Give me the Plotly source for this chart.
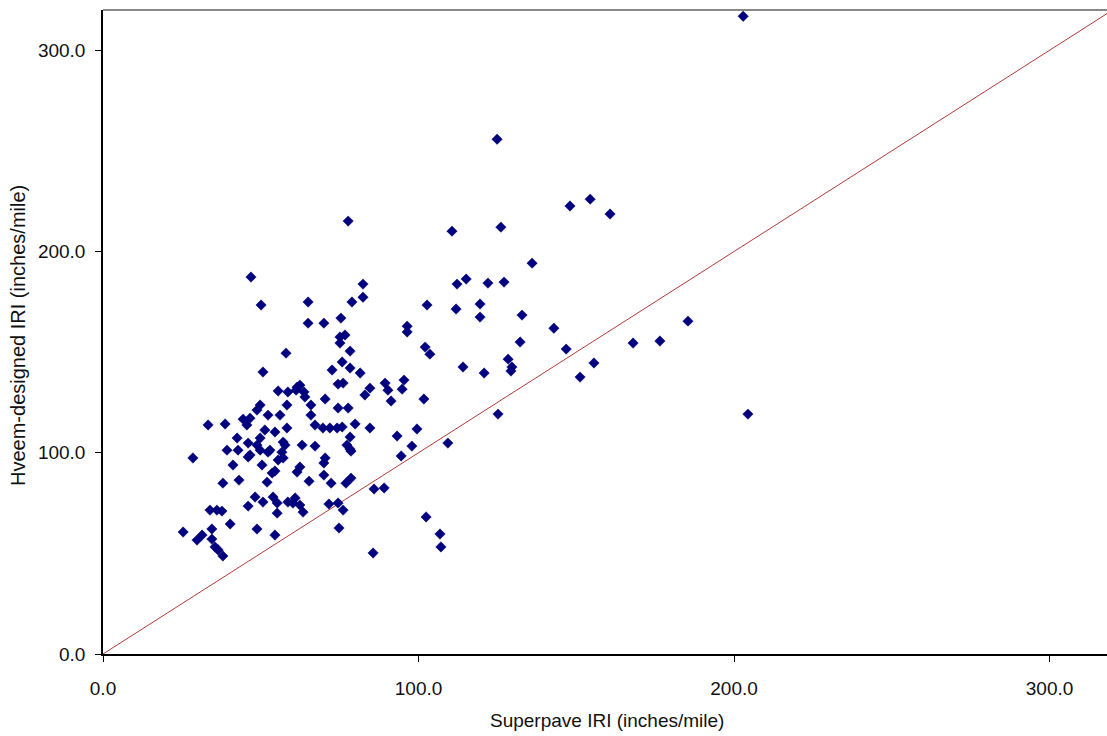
import plotly.graph_objects as go

superpave_iri = [
    202.9, 124.9, 148.0, 154.4, 160.7, 110.6, 126.1, 77.7, 136.0, 112.2,
    115.1, 122.0, 127.1, 46.9, 50.1, 65.0, 65.0, 70.0, 75.4, 78.9,
    82.4, 82.4, 102.7, 96.4, 96.4, 111.9, 119.5, 119.5, 132.8, 142.9,
    185.4, 168.0, 176.5, 102.1, 103.6, 114.1, 120.8, 128.4, 129.6, 129.3,
    132.2, 146.8, 155.6, 151.2, 125.2, 204.4, 89.4, 90.3, 95.4, 94.8,
    91.3, 101.7, 93.2, 99.5, 97.9, 109.3, 78.6, 94.5, 62.4, 61.5,
    70.0, 70.0, 65.3, 72.3, 77.0, 78.6, 60.9, 62.4, 63.4, 71.6,
    74.5, 76.1, 85.9, 89.1, 74.8, 102.4, 85.6, 106.8, 107.1, 75.1,
    76.7, 75.1, 78.3, 75.8, 72.6, 78.3, 81.5, 84.6, 83.0, 76.1,
    74.5, 62.4, 61.2, 63.7, 64.0, 70.4, 65.9, 65.9, 74.5, 77.7,
    67.2, 69.7, 71.9, 74.2, 75.8, 79.9, 84.6, 78.3, 77.3, 78.3,
    63.1, 67.2, 70.4, 58.0, 50.7, 55.5, 58.6, 61.5, 58.3, 49.8,
    48.8, 52.3, 56.1, 44.4, 46.6, 45.6, 33.3, 38.7, 58.3, 51.3,
    54.5, 42.5, 49.8, 46.0, 57.1, 39.3, 42.8, 48.8, 49.8, 46.6,
    52.9, 28.5, 57.7, 52.3, 56.7, 57.1, 41.2, 50.4, 53.6, 46.0,
    43.1, 38.0, 54.5, 52.0, 55.5, 48.2, 50.7, 46.0, 53.9, 55.2,
    55.2, 58.6, 60.2, 33.9, 36.1, 37.7, 40.3, 48.8, 54.5, 25.4,
    29.8, 31.4, 34.5, 34.5, 35.5, 36.5, 38.0,
]

hveem_iri = [
    316.9, 255.8, 222.6, 226.0, 218.6, 210.1, 212.1, 215.1, 194.2, 183.8,
    186.3, 184.3, 184.8, 187.3, 173.4, 174.9, 164.4, 164.4, 166.9, 174.9,
    183.8, 177.3, 173.4, 162.9, 160.0, 171.4, 173.9, 167.4, 168.4, 161.9,
    165.4, 154.5, 155.5, 152.5, 149.0, 142.6, 139.6, 146.5, 142.6, 140.6,
    155.0, 151.5, 144.6, 137.6, 119.2, 119.2, 134.6, 131.1, 136.1, 131.6,
    125.7, 126.7, 108.3, 111.8, 103.3, 104.8, 100.8, 98.4, 92.9, 90.4,
    94.9, 88.9, 85.9, 84.9, 84.9, 87.4, 77.5, 74.0, 70.5, 74.5,
    75.0, 71.5, 82.0, 82.5, 62.6, 68.1, 50.2, 59.6, 53.2, 157.5,
    158.5, 154.5, 150.5, 145.1, 141.1, 142.1, 139.6, 132.1, 128.7, 134.6,
    134.1, 133.6, 131.1, 130.2, 127.7, 126.7, 123.7, 118.7, 122.2, 122.2,
    113.8, 112.3, 112.3, 112.3, 112.8, 114.3, 112.3, 107.8, 103.8, 101.8,
    103.8, 103.3, 97.4, 149.5, 140.1, 130.7, 130.2, 132.6, 123.7, 123.7,
    121.2, 118.7, 118.7, 116.7, 117.2, 113.8, 113.8, 114.3, 112.3, 111.3,
    110.3, 107.3, 107.3, 104.8, 105.3, 101.3, 101.3, 103.8, 101.3, 98.9,
    101.3, 97.4, 103.8, 100.3, 100.3, 97.4, 93.9, 93.9, 89.9, 97.9,
    86.4, 84.9, 90.9, 85.4, 96.4, 78.0, 75.5, 73.5, 78.0, 75.0,
    70.0, 75.5, 75.0, 71.5, 71.5, 71.0, 64.6, 62.1, 59.1, 60.6,
    56.6, 59.1, 62.1, 57.1, 53.2, 51.7, 48.7,
]

equality_line = [0, 320]
x_ticks = [0, 100, 200, 300]
y_ticks = [0, 100, 200, 300]

FONT = "Liberation Sans, Arial, sans-serif"

fig = go.Figure()
fig.add_trace(go.Scatter(
    x=equality_line, y=equality_line, mode="lines",
    line=dict(color="#B53A3A", width=1), showlegend=False, hoverinfo="skip",
))
fig.add_trace(go.Scatter(
    x=superpave_iri, y=hveem_iri, mode="markers",
    marker=dict(symbol="diamond", size=8, color="#000080",
                line=dict(color="#000060", width=0.5)),
    showlegend=False,
))

fig.update_layout(
    width=1107, height=736,
    margin=dict(l=103, r=0, t=10, b=82),
    paper_bgcolor="white", plot_bgcolor="white",
    font=dict(family=FONT, size=20, color="#111111"),
    xaxis=dict(range=[0, 318.2], tickvals=x_ticks, tickformat=".1f",
               showgrid=False, zeroline=False, showline=True,
               linecolor="black", linewidth=1.5, ticks="outside",
               ticklen=6, tickcolor="black", ticklabelstandoff=10,
               tickfont=dict(family=FONT, size=19, color="#111111")),
    yaxis=dict(range=[0, 320], tickvals=y_ticks, tickformat=".1f",
               showgrid=False, zeroline=False, showline=True,
               linecolor="black", linewidth=1.5, ticks="outside",
               ticklen=6, tickcolor="black", ticklabelstandoff=6,
               tickfont=dict(family=FONT, size=19, color="#111111")),
    shapes=[dict(type="line", xref="paper", yref="paper", x0=0, x1=1,
                 y0=1, y1=1, line=dict(color="#888888", width=2))],
    annotations=[
        dict(text="Superpave IRI (inches/mile)", xref="paper", yref="paper",
             x=(607 - 103) / 1004, y=-(720 - 654) / 644, xanchor="center",
             yanchor="middle", showarrow=False,
             font=dict(family=FONT, size=19, color="#111111")),
        dict(text="Hveem-designed IRI (inches/mile)", xref="paper", yref="paper",
             x=-(103 - 18) / 1004, y=(654 - 336) / 644, xanchor="center",
             yanchor="middle", textangle=-90, showarrow=False,
             font=dict(family=FONT, size=20, color="#111111")),
    ],
)

fig.write_html("out.html")
